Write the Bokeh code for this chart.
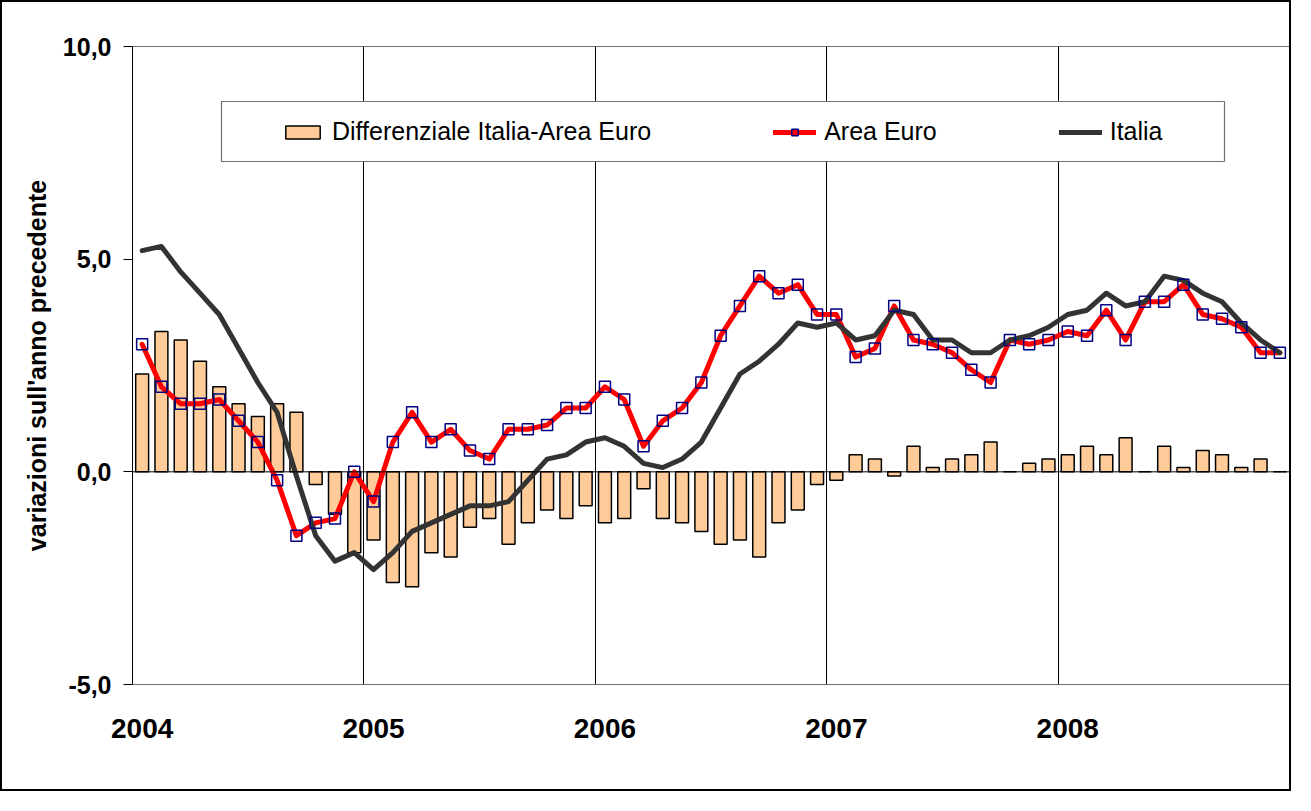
from bokeh.plotting import figure
from bokeh.models import (Range1d, FixedTicker, Span, Legend, LegendItem,
                          BoxAnnotation, ColumnDataSource)
from bokeh.embed import file_html
from bokeh.resources import INLINE

# ---------------- data (monthly, Jan 2004 - Dec 2008) ----------------
area_euro = [3.0, 2.0, 1.6, 1.6, 1.7, 1.2, 0.7, -0.2, -1.5, -1.2, -1.1, 0.0,
             -0.7, 0.7, 1.4, 0.7, 1.0, 0.5, 0.3, 1.0, 1.0, 1.1, 1.5, 1.5,
             2.0, 1.7, 0.6, 1.2, 1.5, 2.1, 3.2, 3.9, 4.6, 4.2, 4.4, 3.7,
             3.7, 2.7, 2.9, 3.9, 3.1, 3.0, 2.8, 2.4, 2.1, 3.1, 3.0, 3.1,
             3.3, 3.2, 3.8, 3.1, 4.0, 4.0, 4.4, 3.7, 3.6, 3.4, 2.8, 2.8]
italia = [5.2, 5.3, 4.7, 4.2, 3.7, 2.9, 2.1, 1.4, -0.1, -1.5, -2.1, -1.9,
          -2.3, -1.9, -1.4, -1.2, -1.0, -0.8, -0.8, -0.7, -0.2, 0.3, 0.4, 0.7,
          0.8, 0.6, 0.2, 0.1, 0.3, 0.7, 1.5, 2.3, 2.6, 3.0, 3.5, 3.4,
          3.5, 3.1, 3.2, 3.8, 3.7, 3.1, 3.1, 2.8, 2.8, 3.1, 3.2, 3.4,
          3.7, 3.8, 4.2, 3.9, 4.0, 4.6, 4.5, 4.2, 4.0, 3.5, 3.1, 2.8]
differenziale = [2.3, 3.3, 3.1, 2.6, 2.0, 1.6, 1.3, 1.6, 1.4, -0.3, -1.0, -1.9,
                 -1.6, -2.6, -2.7, -1.9, -2.0, -1.3, -1.1, -1.7, -1.2, -0.9, -1.1, -0.8,
                 -1.2, -1.1, -0.4, -1.1, -1.2, -1.4, -1.7, -1.6, -2.0, -1.2, -0.9, -0.3,
                 -0.2, 0.4, 0.3, -0.1, 0.6, 0.1, 0.3, 0.4, 0.7, 0.0, 0.2, 0.3,
                 0.4, 0.6, 0.4, 0.8, 0.0, 0.6, 0.1, 0.5, 0.4, 0.1, 0.3, 0.0]
years = ["2004", "2005", "2006", "2007", "2008"]
y_ticks = [-5, 0, 5, 10]
y_tick_labels = ["-5,0", "0,0", "5,0", "10,0"]
series_names = ["Differenziale Italia-Area Euro", "Area Euro", "Italia"]
y_title = "variazioni sull'anno precedente"

n = len(area_euro)
months = [i + 0.5 for i in range(n)]
src = ColumnDataSource(dict(x=months, ae=area_euro, it=italia, diff=differenziale))

FONT = "Liberation Sans"

p = figure(width=1291, height=791, output_backend="svg", toolbar_location=None,
           x_range=Range1d(0, n), y_range=Range1d(-5, 10),
           min_border_left=130, min_border_right=4, min_border_top=44,
           min_border_bottom=109)
p.styles = {"border": "2px solid black"}
p.background_fill_color = "white"
p.border_fill_color = "white"
p.outline_line_color = "#707070"
p.outline_line_width = 1

# grids
p.ygrid.visible = False
p.xgrid.ticker = FixedTicker(ticks=[12 * k for k in range(1, len(years))])
p.xgrid.grid_line_color = "black"
p.xgrid.grid_line_width = 1

# x axis: year labels under January
xa = p.xaxis[0]
xa.ticker = FixedTicker(ticks=[12 * k + 0.5 for k in range(len(years))])
xa.major_label_overrides = {12 * k + 0.5: y for k, y in enumerate(years)}
xa.axis_line_color = None
xa.major_tick_line_color = None
xa.minor_tick_line_color = None
xa.major_label_text_font = FONT
xa.major_label_text_font_style = "bold"
xa.major_label_text_font_size = "28px"
xa.major_label_text_color = "black"
xa.major_label_standoff = 28

# y axis
ya = p.yaxis[0]
ya.ticker = FixedTicker(ticks=y_ticks)
ya.major_label_overrides = {t: l for t, l in zip(y_ticks, y_tick_labels)}
ya.axis_line_color = "black"
ya.axis_line_width = 1
ya.major_tick_out = 9
ya.major_tick_in = 0
ya.major_tick_line_color = "black"
ya.minor_tick_line_color = None
ya.major_label_standoff = 12
ya.major_label_text_font = FONT
ya.major_label_text_font_style = "bold"
ya.major_label_text_font_size = "25px"
ya.major_label_text_color = "black"
ya.axis_label = y_title
ya.axis_label_text_font = FONT
ya.axis_label_text_font_style = "bold"
ya.axis_label_text_font_size = "25px"
ya.axis_label_text_color = "black"
ya.axis_label_standoff = 9

# zero line
p.add_layout(Span(location=0, dimension="width", line_color="black", line_width=1))

# glyphs
bars = p.vbar(x="x", top="diff", bottom=0, width=0.67, source=src,
              fill_color="#FFCC99", line_color="black", line_width=1.5)
ae_line = p.line("x", "ae", source=src, line_color="#FF0000", line_width=5,
                 line_join="round", line_cap="round")
it_line = p.line("x", "it", source=src, line_color="#333333", line_width=5,
                 line_join="round", line_cap="round")
ae_pts = p.scatter("x", "ae", source=src, marker="square", size=11,
                   fill_alpha=0, line_color="#000080", line_width=1.5)

# legend frame (in data coordinates of the plot area)
px_x = n / 1157.0
px_y = 15.0 / 638.0
p.add_layout(BoxAnnotation(left=(229 - 140) * px_x, right=(1232 - 140) * px_x,
                           top=10 - (109 - 54) * px_y, bottom=10 - (169 - 54) * px_y,
                           fill_color="white", fill_alpha=1.0,
                           line_color="#707070", line_width=1.2, line_alpha=1.0))

legend = Legend(items=[LegendItem(label=series_names[0], renderers=[bars]),
                       LegendItem(label=series_names[1], renderers=[ae_line, ae_pts]),
                       LegendItem(label=series_names[2], renderers=[it_line])],
                orientation="horizontal", location=(149, 538),
                padding=0, margin=0, spacing=122, label_standoff=8,
                glyph_width=43, glyph_height=16,
                border_line_alpha=0, background_fill_alpha=0,
                label_text_font=FONT, label_text_font_size="25px",
                label_text_color="black")
p.add_layout(legend, "center")

open("out.html", "w").write(file_html(p, INLINE))
